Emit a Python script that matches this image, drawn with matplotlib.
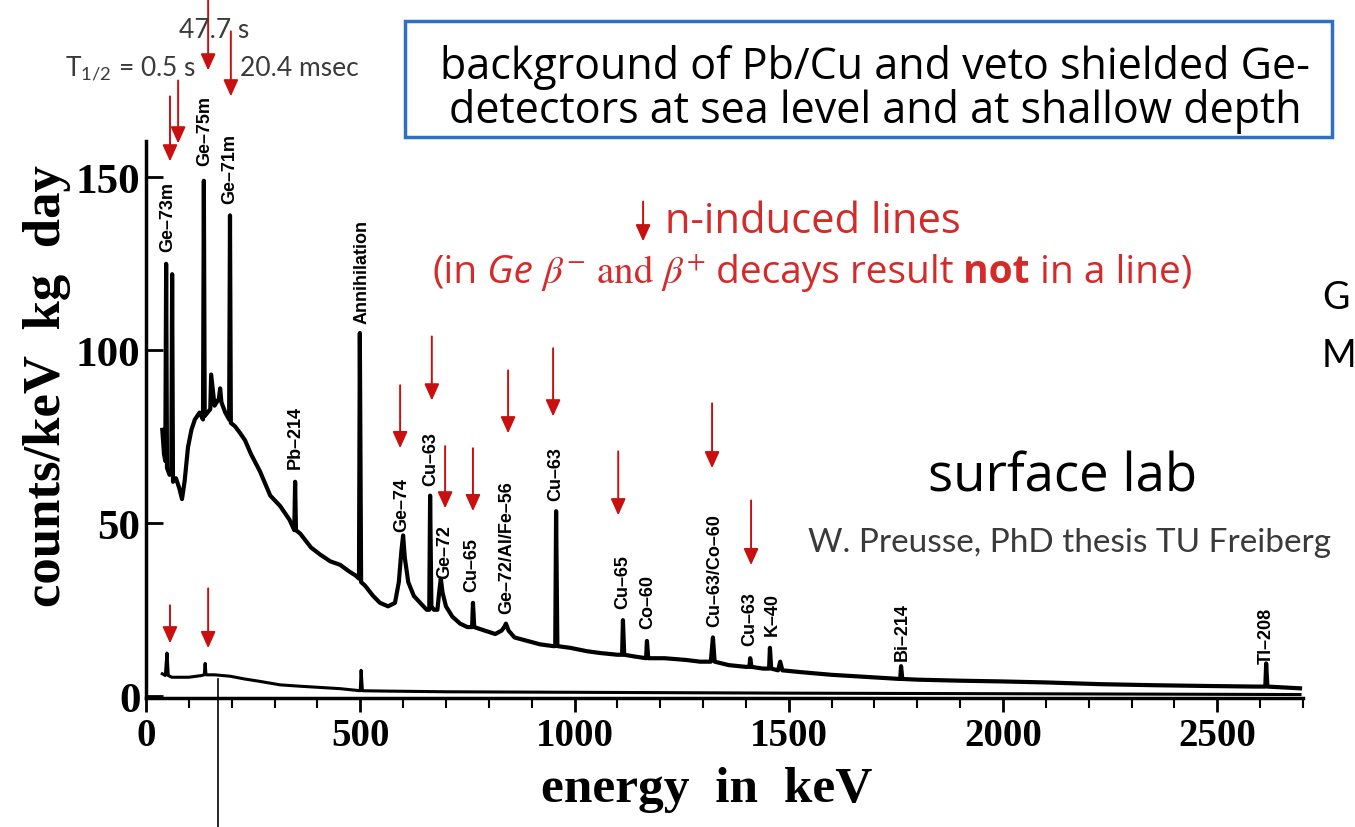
import matplotlib
matplotlib.use("Agg")
import matplotlib.pyplot as plt
from matplotlib.patches import Rectangle
from matplotlib.lines import Line2D

# surface lab spectrum (upper trace): energy in keV, counts/keV kg day
surface_energy = [38, 42, 45, 47, 49, 55, 59, 61, 63, 70, 78, 84, 90, 98, 106, 114, 125,
                  133, 135, 137, 150, 152, 160, 170, 173, 176, 185, 194, 196, 198, 208, 220,
                  231, 245, 266, 290, 313, 335, 346, 348, 350, 360, 385, 406, 430, 453, 475,
                  488, 497, 499, 502, 511, 530, 546, 565, 581, 590, 596, 600, 604, 612, 625,
                  640, 655, 661, 663, 666, 672, 680, 685, 688, 692, 700, 715, 733, 750, 761,
                  763, 766, 790, 815, 830, 836, 840, 846, 860, 890, 920, 950, 955, 957, 960,
                  990, 1030, 1060, 1100, 1111, 1113, 1116, 1140, 1167, 1169, 1172, 1210, 1260,
                  1293, 1318, 1323, 1327, 1360, 1400, 1408, 1410, 1413, 1440, 1454, 1456, 1459,
                  1475, 1480, 1485, 1526, 1600, 1680, 1760, 1762, 1765, 1800, 1900, 1993, 2100,
                  2226, 2350, 2460, 2590, 2612, 2614, 2617, 2693]
surface_counts = [77, 70, 68, 125, 66, 64, 65, 122, 62, 63, 60, 57, 62, 72, 77, 80, 82,
                  80, 149, 81, 83, 93, 84, 86, 89, 85, 82, 80, 139, 79, 78, 76,
                  74, 70, 65, 58, 55, 51, 48, 62, 48, 47, 43, 41, 39, 38, 36,
                  35, 34, 105, 33, 32, 29, 27, 26, 27, 33, 42, 46.5, 40, 33, 29,
                  27, 25, 25, 58, 26, 25, 25, 31, 34, 30, 26, 23, 21, 20, 20,
                  27, 20, 19, 18, 19, 20, 21, 19, 17, 16, 15, 14.5, 14.5, 53.5, 14.5,
                  14, 13, 12.5, 12, 12, 22, 12, 11.5, 11, 16, 11, 11, 10.5,
                  10, 10, 17, 10, 9, 8.5, 8.5, 11, 8.5, 8, 8, 14, 8,
                  7.5, 10, 7.5, 7, 6.2, 5.6, 5, 8.7, 5, 4.8, 4.5, 4.3, 4,
                  3.5, 3.2, 3, 2.8, 2.8, 9.5, 2.8, 2.3]

# shallow depth spectrum (lower trace)
shallow_energy = [38, 45, 49, 52, 60, 80, 100, 130, 136, 138, 140, 160, 196, 230, 266, 313,
                  360, 453, 500, 502, 505, 560, 700, 900, 1100, 1300, 1500, 1800, 2100,
                  2400, 2693]
shallow_counts = [6.5, 6, 12.5, 6, 5.5, 5.5, 5.5, 6, 6.2, 9.5, 6.2, 6.2, 5.8, 5, 4.3, 3.3,
                  2.9, 2.2, 1.6, 7.5, 1.6, 1.5, 1.3, 1.2, 1.1, 1.0, 0.9, 0.8, 0.7,
                  0.6, 0.5]

x_ticks = [0, 500, 1000, 1500, 2000, 2500]
y_ticks = [0, 50, 100, 150]

# line labels: text, energy, lower end of the label
line_names = ["Ge–73m", "Ge–75m", "Ge–71m", "Pb–214", "Annihilation", "Ge–74", "Cu–63",
              "Ge–72", "Cu–65", "Ge–72/Al/Fe–56", "Cu–63", "Cu–65", "Co–60",
              "Cu–63/Co–60", "Cu–63", "K–40", "Bi–214", "Tl–208"]
line_energy = [51, 138, 196, 348, 504, 597, 665, 698, 761, 842, 957, 1113, 1172, 1328,
               1410, 1461, 1764, 2614]
line_label_y = [128.6, 153.5, 142.5, 65.9, 107.8, 47.7, 61, 34.1, 30.3, 24, 56.6, 25.4,
                19.7, 20.2, 14.7, 17.6, 10.4, 9.5]

# red arrows for n-induced lines: energy, start, tip
arrow_energy = [56, 75, 145, 198, 593, 667, 698, 763, 845, 950, 1102, 1321, 1412, 56, 145, 1160]
arrow_top = [173.4, 178.0, 201.7, 192.2, 89.9, 104, 72.3, 71.7, 94.2, 100.6, 70.8, 84.7,
             56.6, 26.3, 31.2, 143]
arrow_tip = [154.6, 159.8, 180.9, 173.4, 71.7, 85.5, 54.3, 53.5, 76.0, 80.9, 52.3, 65.9,
             37.9, 15.3, 13.9, 131.5]

W, H = 1355, 828
fig = plt.figure(figsize=(W / 100, H / 100), dpi=100)
plt.rcParams["mathtext.fontset"] = "stix"


def fx(px):
    return px / W


def fy(py):
    return 1 - py / H


ax = fig.add_axes([fx(146), fy(699), (1303 - 146) / W, (699 - 142) / H])
ax.plot(surface_energy, surface_counts, color="black", lw=3.0)
ax.plot(shallow_energy, shallow_counts, color="black", lw=2.2)
ax.set_xlim(0, 2700)
ax.set_ylim(-0.5, 160.5)
ax.set_xticks(x_ticks)
ax.set_xticks(range(0, 2701, 100), minor=True)
ax.set_yticks(y_ticks)
ax.spines[["top", "right"]].set_visible(False)
for s in ["left", "bottom"]:
    ax.spines[s].set_linewidth(2.5)
ax.tick_params(axis="x", which="major", direction="out", length=10, width=2, pad=4)
ax.tick_params(axis="x", which="minor", direction="out", length=7, width=1.5)
ax.tick_params(axis="y", direction="in", length=12, width=2, pad=4)
for lbl in ax.get_xticklabels():
    lbl.set_fontfamily("Liberation Serif")
    lbl.set_fontweight("bold")
    lbl.set_fontsize(28)
for lbl in ax.get_yticklabels():
    lbl.set_fontfamily("Liberation Serif")
    lbl.set_fontweight("bold")
    lbl.set_fontsize(31)

for name, e, yb in zip(line_names, line_energy, line_label_y):
    ax.text(e, yb, name, rotation=90, ha="center", va="bottom", fontsize=13,
            fontweight="bold", family="Liberation Sans")

for e, top, tip in zip(arrow_energy, arrow_top, arrow_tip):
    ax.annotate("", xy=(e, tip), xytext=(e, top), annotation_clip=False,
                arrowprops=dict(arrowstyle="-|>,head_length=1.0,head_width=0.45",
                                color="#c81010", lw=1.4, shrinkA=0, shrinkB=0,
                                mutation_scale=10))

fig.text(fx(707), fy(790), "energy  in  keV", ha="center", va="center",
         family="Liberation Serif", fontweight="bold", fontsize=37)
fig.text(fx(47), fy(386), "counts/keV  kg  day", ha="center", va="center", rotation=90,
         family="Liberation Serif", fontweight="bold", fontsize=38)

gray = "#3a3a3a"
fig.text(fx(214), fy(31), "47.7 s", ha="center", va="center", family="Lato",
         fontsize=19, color=gray)
fig.text(fx(131), fy(68), r"$\mathregular{T_{1/2}}$ = 0.5 s", ha="center", va="center",
         family="Lato", fontsize=19, color=gray)
fig.text(fx(299), fy(69), "20.4 msec", ha="center", va="center", family="Lato",
         fontsize=19, color=gray)

fig.add_artist(Rectangle((fx(405), fy(138)), (1332 - 405) / W, (138 - 22) / H,
                         transform=fig.transFigure, fill=False, edgecolor="#2f6fc4", lw=2.5))
fig.text(fx(875), fy(68), "background of Pb/Cu and veto shielded Ge-", ha="center",
         va="center", family="Open Sans", fontsize=31, color="black")
fig.text(fx(875), fy(112), "detectors at sea level and at shallow depth", ha="center",
         va="center", family="Open Sans", fontsize=31, color="black")

red = "#d42a2a"
fig.text(fx(665), fy(222), "n-induced lines", ha="left", va="center", family="Open Sans",
         fontsize=30, color=red)

# second red line built from pieces of different fonts
fig.canvas.draw()
renderer = fig.canvas.get_renderer()
pieces = [("(in", dict(family="Open Sans")),
          (" Ge", dict(family="Open Sans", style="italic")),
          (r" $\beta^{-}$ and $\beta^{+}$", dict(family="STIXGeneral")),
          (" decays result", dict(family="Open Sans")),
          (" not", dict(family="Open Sans", fontweight="bold")),
          (" in a line)", dict(family="Open Sans"))]
xpos = fx(432)
for txt, kw in pieces:
    t = fig.text(xpos, fy(283), txt, ha="left", va="baseline", fontsize=28, color=red, **kw)
    bb = t.get_window_extent(renderer)
    xpos = bb.x1 / fig.bbox.width

fig.text(fx(928), fy(478), "surface lab", ha="left", va="center", family="Open Sans",
         fontsize=38, color="black")
fig.text(fx(808), fy(543), "W. Preusse, PhD thesis TU Freiberg", ha="left", va="center",
         family="Lato", fontsize=24, color=gray)

fig.text(fx(1322), fy(298), "G", ha="left", va="center", family="Lato", fontsize=27,
         color="black")
fig.text(fx(1322), fy(356), "M", ha="left", va="center", family="Lato", fontsize=27,
         color="black")

fig.add_artist(Line2D([fx(218), fx(218)], [fy(680), fy(828)], color="black", lw=1.2,
                      transform=fig.transFigure))

fig.savefig("out.png", dpi=100)
